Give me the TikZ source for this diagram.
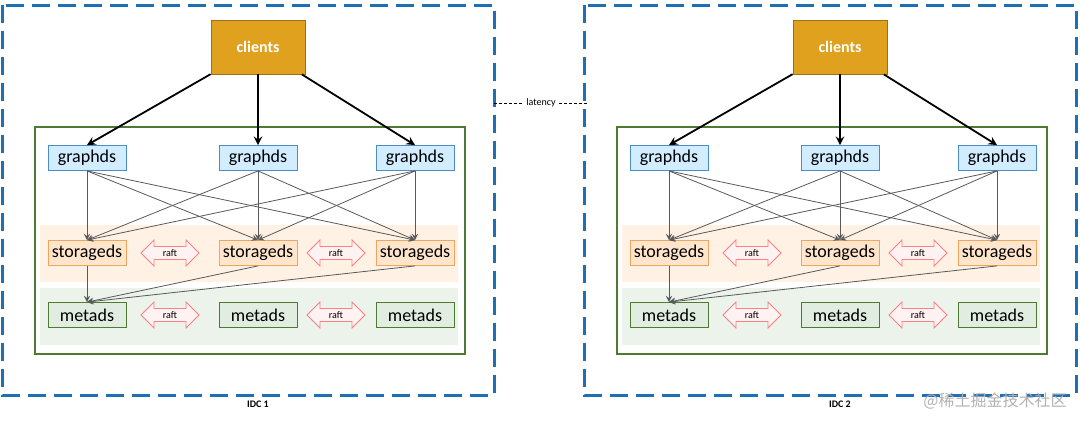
\documentclass[tikz,border=0pt]{standalone}
\usepackage{fontspec}
\setmainfont{Carlito}
\newfontfamily\cjk{Noto Sans CJK SC}
\usetikzlibrary{shapes,shapes.arrows,arrows,positioning}
\definecolor{gold}{HTML}{E0A21E}
\definecolor{idcblue}{HTML}{1F6FB5}
\definecolor{dkgreen}{HTML}{4E7A34}
\tikzset{
  box/.style={draw, rectangle, minimum width=39pt, minimum height=12.5pt, inner sep=1pt, font=\fontsize{9}{9}\selectfont},
  gbox/.style={box, draw=idcblue!80, fill=blue!40!cyan!18},
  sbox/.style={box, draw=orange!60!brown!70, fill=orange!20},
  mbox/.style={box, draw=dkgreen, fill=green!40!black!12},
  raft/.style={draw=red!50, fill=red!5, double arrow, minimum width=13pt, minimum height=29pt, double arrow head extend=2.5pt, inner sep=0.5pt, font=\fontsize{5}{5}\selectfont},
  link/.style={->, >=stealth, gray!70!black, thin},
}
\begin{document}
\begin{tikzpicture}[x=0.5pt, y=-0.5pt]
\useasboundingbox (0,0) rectangle (1080,424);
\foreach \d/\dx in {1/0, 2/582} {
\begin{scope}[xshift=\dx*0.5pt]
  \draw[idcblue, line width=1.5pt, dash pattern=on 9pt off 4pt] (2,5) rectangle (494,395);
  \node[font=\fontsize{5}{5}\selectfont\bfseries] at (258,404) {IDC \d};
  \fill[orange!10] (40,225) rectangle (458,282);
  \fill[green!40!black!8] (40,288) rectangle (458,345);
  \draw[dkgreen, line width=0.9pt] (35,127) rectangle (465,354);
  \node[draw=gold!70!black, fill=gold, minimum width=47pt, minimum height=27pt, font=\fontsize{8}{9}\selectfont\bfseries, text=white] (c\d) at (258,47) {clients};
  \foreach \i/\x in {1/87, 2/258, 3/415} {
    \node[gbox] (g\d\i) at (\x,158) {graphds};
    \node[sbox] (s\d\i) at (\x,253) {storageds};
    \node[mbox] (m\d\i) at (\x,315) {metads};
    \draw[->, >=stealth, line width=0.9pt] (c\d) -- (g\d\i.north);
  }
  \foreach \i in {1,2,3} \foreach \j in {1,2,3}
    \draw[link] (g\d\i.south) -- (s\d\j.north);
  \foreach \j in {1,2,3}
    \draw[link] (s\d\j.south) -- (m\d1.north);
  \foreach \y in {253,315} {
    \node[raft] at (170,\y) {raft};
    \node[raft] at (336,\y) {raft};
  }
\end{scope}
}
\coordinate (l1) at (494,103);
\coordinate (l2) at (588,103);
\draw[dash pattern=on 1.5pt off 1pt, thin] (l1) -- node[fill=white, inner sep=1pt, font=\fontsize{5}{5}\selectfont] {latency} (l2);
\node[text=gray!60, font=\cjk\fontsize{8}{9}\selectfont] at (995,401) {@稀土掘金技术社区};
\end{tikzpicture}
\end{document}
